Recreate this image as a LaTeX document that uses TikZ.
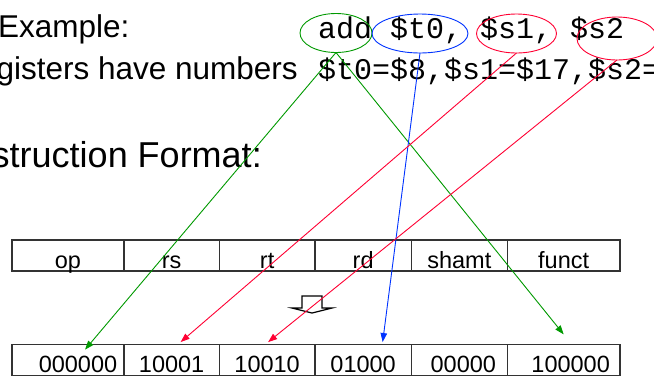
\documentclass[tikz,border=0pt]{standalone}
\usepackage{fontspec}
\setmainfont{Liberation Sans}
\setmonofont{Liberation Mono}
\usetikzlibrary{arrows.meta,shapes.geometric}

\definecolor{pgreen}{RGB}{0,153,0}
\definecolor{pred}{RGB}{255,0,51}
\definecolor{pblue}{RGB}{0,51,255}

\tikzset{
  field/.style={draw=black!80, line width=1.3pt, rectangle, inner sep=0pt,
    minimum height=31pt, text height=28pt, text depth=3pt,
    font=\fontsize{23.5}{28}\selectfont},
  ring/.style={ellipse, draw, line width=0.9pt, inner sep=0pt, outer sep=0pt},
  link/.style={line width=0.9pt, -{Triangle[length=9pt,width=6.5pt]}},
  big/.style={inner sep=0pt, font=\fontsize{31.5}{36}\selectfont},
  code/.style={inner sep=0pt, font=\ttfamily\fontsize{30}{36}\selectfont},
}

\begin{document}
\begin{tikzpicture}[x=1pt,y=-1pt]
    \useasboundingbox (0,0) rectangle (654,376);
    \clip (0,0) rectangle (654,376);
    % text lines
    \node[big, anchor=base west] (ex) at (-2,37) {Example:};
    \node[code, anchor=base west] (instr) at (318,38) {add \$t0, \$s1, \$s2};
    \node[big, anchor=base east] (regs) at (298,79) {registers have numbers};
    \node[code, anchor=base west] (nums) at (318,79) {\$t0=\$8,\$s1=\$17,\$s2=\$18};
    \node[inner sep=0pt, font=\fontsize{36}{42}\selectfont, anchor=base east] (fmt)
        at (262,167) {Instruction Format:};
    % rings round the operands
    \node[ring, draw=pgreen, minimum width=72pt, minimum height=39pt] (eadd) at (336,33) {};
    \node[ring, draw=pblue, minimum width=96pt, minimum height=39pt] (et0) at (420,33.5) {};
    \node[ring, draw=pred, minimum width=80pt, minimum height=39pt] (es1) at (516.5,33.5) {};
    \node[ring, draw=pred, minimum width=80pt, minimum height=43pt] (es2) at (617,38.5) {};
    % field names
    \node[field, minimum width=112pt] (op) at (68,255.6) {op};
    \node[field, minimum width=95.3pt] (rs) at (171.65,255.6) {rs};
    \node[field, minimum width=95.7pt] (rt) at (267.15,255.6) {rt};
    \node[field, minimum width=96.3pt] (rd) at (363.15,255.6) {rd};
    \node[field, minimum width=96pt] (shamt) at (459.3,255.6) {shamt};
    \node[field, minimum width=112.7pt] (funct) at (563.65,255.6) {funct};
    % encoded bits
    \node[field, minimum width=112pt] (b1) at (68,359.8) {\hspace*{20pt}000000};
    \node[field, minimum width=95.3pt] (b2) at (171.65,359.8) {10001};
    \node[field, minimum width=95.7pt] (b3) at (267.15,359.8) {10010};
    \node[field, minimum width=96.3pt] (b4) at (363.15,359.8) {01000};
    \node[field, minimum width=96pt] (b5) at (459.3,359.8) {\hspace*{8pt}00000};
    \node[field, minimum width=112.7pt] (b6) at (563.65,359.8) {\hspace*{14pt}100000};
    % small block arrow
    \draw[line width=1.2pt, fill=white] (302,296) -- (322,296) -- (322,308) -- (332,308)
        -- (312,313) -- (292,308) -- (302,308) -- cycle;
    % operand to field
    \draw[link, pgreen] (eadd.south) -- ([xshift=17pt,yshift=-6pt]b1.north);
    \draw[link, pgreen] (eadd.south) -- ([yshift=9.3pt]b6.north);
    \draw[link, pblue] (et0.south) -- ([xshift=19.5pt,yshift=1.6pt]b4.north);
    \draw[link, pred] (es1.south) -- ([xshift=9pt,yshift=1.6pt]b2.north);
    \draw[link, pred] (es2.south) -- ([xshift=1pt,yshift=1.6pt]b3.north);
\end{tikzpicture}
\end{document}
